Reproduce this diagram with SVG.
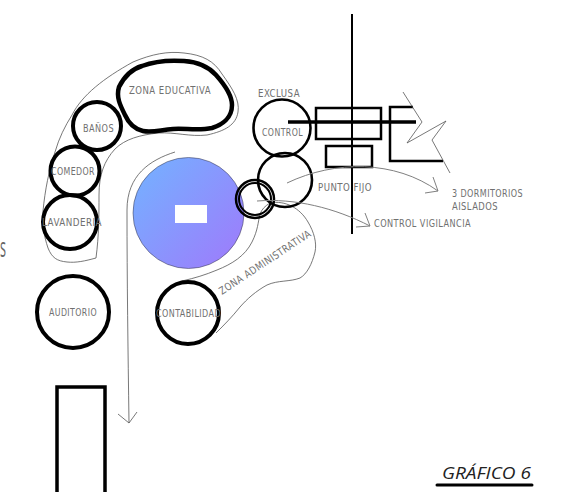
<svg xmlns="http://www.w3.org/2000/svg" width="572" height="492" viewBox="0 0 572 492">
<style>
.t{font-family:"DejaVu Sans","Liberation Sans",sans-serif;font-stretch:condensed;font-size:10.5px;fill:#707070;letter-spacing:.5px}
.k{fill:none;stroke:#000;stroke-width:4}
.m{fill:none;stroke:#000;stroke-width:2.6}
.f{fill:none;stroke:#555;stroke-width:.8}
.a{fill:none;stroke:#808080;stroke-width:1}
</style>
<defs><linearGradient id="g" x1="0.1" y1="0.15" x2="0.9" y2="0.85"><stop offset="0" stop-color="#78acff"/><stop offset="1" stop-color="#9a80fc"/></linearGradient></defs>
<rect width="572" height="492" fill="#fff"/>
<text x="0" y="257" textLength="6" lengthAdjust="spacingAndGlyphs" style="font-family:'Open Sans',sans-serif;font-size:28px;fill:#666">s</text>
<g id="zones">
<path class="f" d="M72 115C82 95 104 78 133 62C152 54 168 51 184 53C203 55 214 61 222 74C232 88 240 100 238 112C236 125 225 131 207 135C190 137 176 132 158 133C140 135 125 139 115 149C104 161 99 175 99 195C99 215 99 235 96 258C85 261 76 263 67 262C57 261 52 258 48 248C44 236 42 225 43 211C45 190 49 170 55 152C59 138 65 126 72 115Z"/>
<path class="f" d="M182 281C195 278 205 275 217 270C232 264 245 256 252 242C258 230 258 222 260 214C262 209 265 206 270 203C285 200 300 208 308 222C314 232 317 243 315 252C312 264 307 274 300 278C290 282 278 280 267 285C256 291 247 299 240 307C232 317 224 325 216 333"/>
</g>
<g id="zona-educativa"><path d="M119 87C125 75 132 69 142 66C155 61 170 60 184 61C198 62 208 66 216 75C224 84 232 95 232 105C232 118 222 125 212 128C198 131 185 128 173 129C160 130 152 133 143 131C134 129 129 124 125 115C120 105 116 97 119 87Z" fill="none" stroke="#000" stroke-width="4.500"/><text class="t" x="129" y="94" textLength="82" lengthAdjust="spacingAndGlyphs">ZONA EDUCATIVA</text></g>
<g id="banos"><circle class="k" cx="97" cy="126" r="24"/><text class="t" x="83" y="132" textLength="31" lengthAdjust="spacingAndGlyphs">BAÑOS</text></g>
<g id="comedor"><circle class="k" cx="75" cy="171" r="24.500"/><text class="t" x="51" y="175" textLength="44" lengthAdjust="spacingAndGlyphs">COMEDOR</text></g>
<g id="lavanderia"><circle class="k" cx="70" cy="222" r="27"/><text class="t" x="42" y="226" textLength="60" lengthAdjust="spacingAndGlyphs">LAVANDERIA</text></g>
<g id="auditorio"><circle class="k" cx="73" cy="312" r="36"/><text class="t" x="49" y="316" textLength="48" lengthAdjust="spacingAndGlyphs">AUDITORIO</text></g>
<g id="contabilidad"><circle class="k" cx="188" cy="313" r="31"/><text class="t" x="156" y="317" textLength="65" lengthAdjust="spacingAndGlyphs">CONTABILIDAD</text></g>
<g id="centro"><circle cx="188.500" cy="213" r="55.500" fill="url(#g)" stroke="#334" stroke-width=".5"/><rect x="175" y="205" width="32" height="18" fill="#fff"/></g>
<g id="zona-administrativa"><text class="t" transform="translate(222 295) rotate(-33.500)" textLength="108" lengthAdjust="spacingAndGlyphs">ZONA ADMINISTRATIVA</text></g>
<g id="acceso"><circle cx="255" cy="199" r="19" fill="none" stroke="#000" stroke-width="2.500"/><circle cx="255" cy="199" r="16" fill="none" stroke="#000" stroke-width="2"/></g>
<g id="control"><circle class="m" cx="282" cy="128" r="28.500"/><text class="t" x="262" y="136" textLength="41" lengthAdjust="spacingAndGlyphs">CONTROL</text><text class="t" x="258" y="97" textLength="42" lengthAdjust="spacingAndGlyphs">EXCLUSA</text></g>
<g id="punto-fijo"><circle class="m" cx="285" cy="180" r="27"/><text class="t" x="318" y="191" textLength="54" lengthAdjust="spacingAndGlyphs">PUNTO FIJO</text></g>
<g id="dormitorios">
<rect x="316" y="108" width="65" height="31" fill="none" stroke="#000" stroke-width="2.500"/>
<rect x="326" y="146" width="46" height="21" fill="none" stroke="#000" stroke-width="2.500"/>
<path d="M413 107H390V161H443" fill="none" stroke="#000" stroke-width="2.500"/>
<path class="f" d="M403 92L422 122L407 143L446 121L432 140L450 173"/>
<text class="t" x="452" y="197" textLength="71" lengthAdjust="spacingAndGlyphs">3 DORMITORIOS</text>
<text class="t" x="452" y="210" textLength="46" lengthAdjust="spacingAndGlyphs">AISLADOS</text>
</g>
<g id="control-vigilancia"><text class="t" x="374" y="227" textLength="97" lengthAdjust="spacingAndGlyphs">CONTROL VIGILANCIA</text></g>
<g id="connectors">
<path d="M352 14V234" stroke="#000" stroke-width="2" fill="none"/>
<path d="M288 122H416" stroke="#000" stroke-width="3.500" fill="none"/>
<path class="a" d="M287 183C335 160 395 160 438 191M433 177L438 191L425 193"/>
<path class="a" d="M257 201C295 198 335 208 370 226M365 213L370 226L356 227"/>
<path class="f" d="M175 152C150 160 127 175 127 210C127 280 128 350 129 423M118 414L129 423L137 412"/>
</g>
<g id="bloque"><path d="M57 492V387H105V492" fill="none" stroke="#000" stroke-width="3.500"/></g>
<g id="titulo"><text x="442" y="479" style="font-family:'Open Sans',sans-serif;font-style:italic;font-size:17px;fill:#222" textLength="89" lengthAdjust="spacingAndGlyphs">GRÁFICO 6</text><path d="M437 485H532" stroke="#000" stroke-width="3" stroke-linecap="round"/></g>
</svg>
